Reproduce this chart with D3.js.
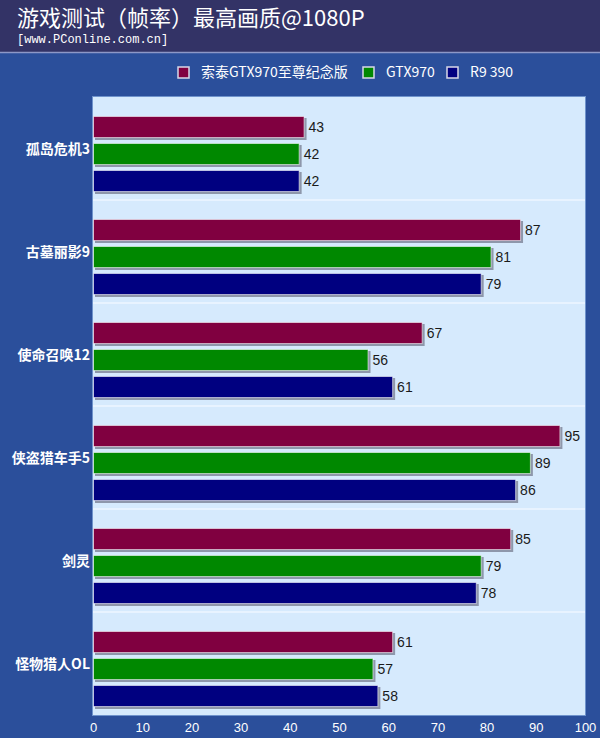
<!DOCTYPE html>
<html>
<head>
<meta charset="utf-8">
<script src="https://cdn.jsdelivr.net/npm/d3@7"></script>
<style>
  body { margin: 0; padding: 0; background: #2b4f9b; }
  svg { display: block; }
</style>
</head>
<body>
<div id="chart"></div>
<script>
// data
let games = ["孤岛危机3", "古墓丽影9", "使命召唤12", "侠盗猎车手5", "剑灵", "怪物猎人OL"];
let seriesNames = ["索泰GTX970至尊纪念版", "GTX970", "R9 390"];
let seriesColors = ["#800040", "#008800", "#000080"];
let zotacFps = [43, 87, 67, 95, 85, 61];
let gtx970Fps = [42, 81, 56, 89, 79, 57];
let r9390Fps = [42, 79, 61, 86, 78, 58];
let xTicks = [0, 10, 20, 30, 40, 50, 60, 70, 80, 90, 100];

let width = 600, height = 738;
let plot = {left: 93, right: 585, top: 97, bottom: 715};

let svg = d3.select("#chart").append("svg")
    .attr("width", width)
    .attr("height", height);

// background
svg.append("rect").attr("width", width).attr("height", height).attr("fill", "#2b4f9b");
svg.append("rect").attr("width", width).attr("height", 52).attr("fill", "#333366");
svg.append("line")
    .attr("x1", 0).attr("x2", width).attr("y1", 52.5).attr("y2", 52.5)
    .attr("stroke", "#8d98c8").attr("stroke-width", 1.5);

// title
svg.append("text")
    .attr("x", 17).attr("y", 26)
    .attr("fill", "#ffffff")
    .style("font-family", "'Noto Sans CJK SC', sans-serif")
    .style("font-size", "22px")
    .text("游戏测试（帧率）最高画质@1080P");
svg.append("text")
    .attr("x", 17).attr("y", 43)
    .attr("fill", "#ffffff")
    .style("font-family", "'Liberation Mono', monospace")
    .style("font-size", "12px")
    .text("[www.PConline.com.cn]");

// legend
let legendX = [178, 363, 447];
let legend = svg.append("g").selectAll("g")
    .data(seriesNames)
    .join("g")
    .attr("transform", (d, i) => `translate(${legendX[i]},67)`);
legend.append("rect")
    .attr("width", 11).attr("height", 11)
    .attr("fill", (d, i) => seriesColors[i])
    .attr("stroke", "#d8d8e8").attr("stroke-width", 1.5);
legend.append("text")
    .attr("x", 23).attr("y", 6)
    .attr("dominant-baseline", "middle")
    .attr("fill", "#ffffff")
    .style("font-family", "'Noto Sans CJK SC', sans-serif")
    .style("font-size", "14px")
    .text(d => d);

// scales
let x = d3.scaleLinear().domain([0, 100]).range([plot.left, plot.right]);
let y0 = d3.scaleBand().domain(games).range([plot.top, plot.bottom]);
let y1 = d3.scaleBand().domain(d3.range(3)).range([19, 95]).paddingInner(5 / 27);

// plot area
svg.append("rect")
    .attr("x", plot.left - 0.5).attr("y", plot.top - 0.5)
    .attr("width", plot.right - plot.left + 1).attr("height", plot.bottom - plot.top + 1)
    .attr("fill", "#d6eafd")
    .attr("stroke", "#6f93cc").attr("stroke-width", 1);

// group separators
svg.append("g").selectAll("line")
    .data(games.slice(1))
    .join("line")
    .attr("x1", plot.left).attr("x2", plot.right)
    .attr("y1", d => y0(d)).attr("y2", d => y0(d))
    .attr("stroke", "#e8f3ff").attr("stroke-width", 2);

let rows = games.map((g, i) => ({
    game: g,
    values: [zotacFps[i], gtx970Fps[i], r9390Fps[i]]
}));

let groups = svg.append("g").selectAll("g")
    .data(rows)
    .join("g")
    .attr("transform", d => `translate(0,${y0(d.game)})`);

let bars = groups.selectAll("g")
    .data(d => d.values.map((v, i) => ({v: v, i: i})))
    .join("g");

// shadow
bars.append("rect")
    .attr("x", x(0) + 2)
    .attr("y", d => y1(d.i) + 2)
    .attr("width", d => x(d.v) - x(0))
    .attr("height", y1.bandwidth())
    .attr("fill", "#8e97ab");

bars.append("rect")
    .attr("x", x(0) + 0.5)
    .attr("y", d => y1(d.i) + 0.5)
    .attr("width", d => x(d.v) - x(0) - 1)
    .attr("height", y1.bandwidth() - 1)
    .attr("fill", d => seriesColors[d.i])
    .attr("stroke", "rgba(255,255,255,0.55)")
    .attr("stroke-width", 1);

bars.append("text")
    .attr("x", d => x(d.v) + 4)
    .attr("y", d => y1(d.i) + y1.bandwidth() / 2 + 1)
    .attr("dominant-baseline", "middle")
    .attr("fill", "#1a1a1a")
    .style("font-family", "Arial, 'Liberation Sans', sans-serif")
    .style("font-size", "14px")
    .text(d => d.v);

// category labels
svg.append("g").selectAll("text")
    .data(games)
    .join("text")
    .attr("x", plot.left - 3)
    .attr("y", d => y0(d) + y0.bandwidth() / 2 + 2)
    .attr("text-anchor", "end")
    .attr("dominant-baseline", "middle")
    .attr("fill", "#ffffff")
    .style("font-family", "'Noto Sans CJK SC', sans-serif")
    .style("font-size", "14px")
    .style("font-weight", "bold")
    .text(d => d);

// x axis
let xAxis = svg.append("g")
    .attr("transform", `translate(0,${plot.bottom})`)
    .call(d3.axisBottom(x).tickValues(xTicks).tickSize(0).tickPadding(8));
xAxis.select(".domain").remove();
xAxis.selectAll("text")
    .attr("fill", "#ffffff")
    .style("font-family", "Arial, 'Liberation Sans', sans-serif")
    .style("font-size", "13px");
</script>
</body>
</html>
